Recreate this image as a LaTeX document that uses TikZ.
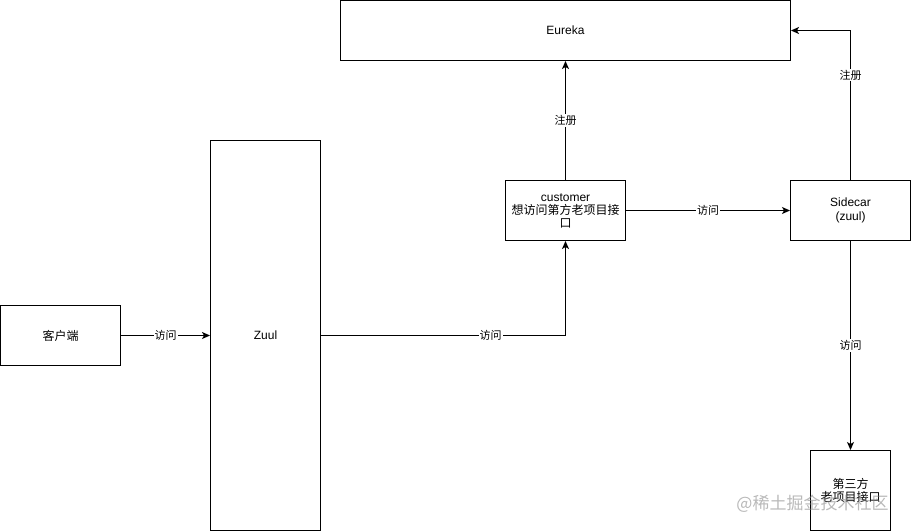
\documentclass[tikz,border=0pt]{standalone}
\usepackage{fontspec}
\setmainfont{Liberation Sans}
\newfontfamily\cjk{Noto Sans CJK SC}
\usetikzlibrary{arrows.meta,calc}
\begin{document}
\begin{tikzpicture}[x=1pt,y=-1pt,
  box/.style={draw=black, line width=1pt, fill=white, inner sep=0pt, align=center, font=\fontsize{12}{14}\selectfont},
  arr/.style={draw=black, line width=1pt, -{Stealth[length=8pt,width=7pt,inset=2pt]}},
  lbl/.style={fill=white, inner sep=1pt, font=\fontsize{11}{13}\selectfont\cjk}]
\useasboundingbox (0,0) rectangle (911,531);
\fill[white] (0,0) rectangle (911,531);
\node[box, minimum width=450pt, minimum height=60pt] (eureka) at (565.5,30.5) {Eureka};
\node[box, minimum width=110pt, minimum height=390pt] (zuul) at (265.5,335.5) {Zuul};
\node[box, minimum width=120pt, minimum height=60pt] (client) at (60.5,335.5) {\cjk 客户端};
\node[box, minimum width=120pt, minimum height=60pt] (customer) at (565.5,210.5) {customer\\[-1pt]{\cjk 想访问第方老项目接}\\[-1pt]{\cjk 口}};
\node[box, minimum width=120pt, minimum height=60pt] (sidecar) at (850.5,210.5) {Sidecar\\(zuul)};
\node[box, minimum width=80pt, minimum height=80pt] (third) at (850.5,490.5) {\cjk 第三方\\[-1pt]\cjk 老项目接口};

\draw[arr] (client) -- node[lbl]{访问} (zuul);
\draw[arr] (zuul.east) -- node[lbl, pos=0.694]{访问} (zuul.east -| customer.south) -- (customer.south);
\draw[arr] (customer) -- node[lbl]{注册} (eureka);
\draw[arr] (customer) -- node[lbl]{访问} (sidecar);
\draw[arr] (sidecar.north) -- node[lbl, pos=0.7]{注册} (sidecar.north |- eureka.east) -- (eureka.east);
\draw[arr] (sidecar) -- node[lbl]{访问} (third);

\node[text=gray, text opacity=0.55, inner sep=0pt, font=\fontsize{17}{19}\selectfont\cjk] (wm) at (812.5,503.5) {@稀土掘金技术社区};
\end{tikzpicture}
\end{document}
